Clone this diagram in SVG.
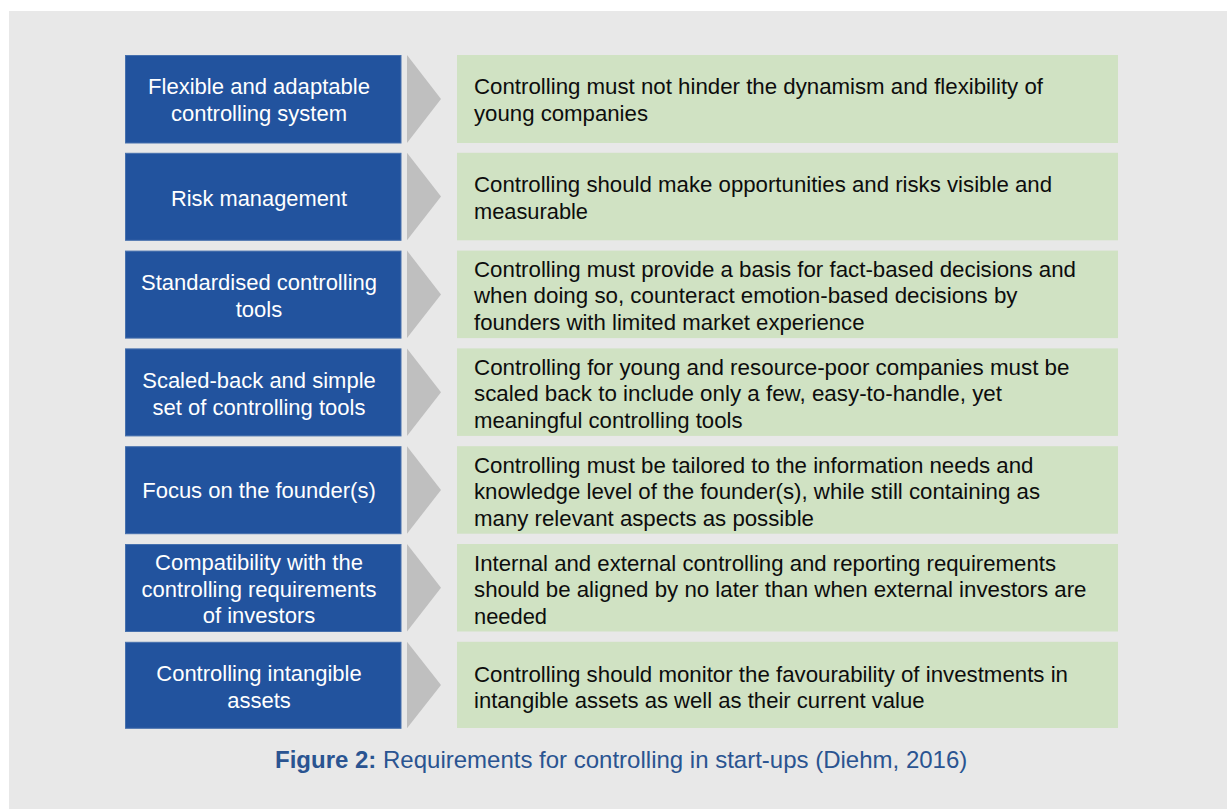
<svg xmlns="http://www.w3.org/2000/svg" width="1227" height="809" viewBox="0 0 1227 809">
<style>
.bg{fill:#e8e8e8}
.req{fill:#22539e;stroke:#4670ad;stroke-width:1}
.chev{fill:#bfbfbf}
.desc{fill:#d0e2c3}
.rt{font-family:"Liberation Sans",Arial,sans-serif;font-size:22px;fill:#ffffff;text-anchor:middle}
.dt{font-family:"Liberation Sans",Arial,sans-serif;font-size:22px;fill:#0d0d0d}
.cap{font-family:"Liberation Sans",Arial,sans-serif;font-size:24px;fill:#2a5491}
</style>
<rect width="1227" height="809" fill="#ffffff"/>
<rect class="bg" x="9" y="11" width="1218" height="798"/>

<g id="connectors">
<polygon class="chev" points="407,55 441,99 407,143"/>
<polygon class="chev" points="407,152.8 441,196.6 407,240.3"/>
<polygon class="chev" points="407,250.6 441,294.4 407,338.1"/>
<polygon class="chev" points="407,348.4 441,392.2 407,435.9"/>
<polygon class="chev" points="407,446.2 441,490 407,533.7"/>
<polygon class="chev" points="407,544 441,587.8 407,631.5"/>
<polygon class="chev" points="407,641.8 441,685 407,728.3"/>
</g>

<g id="req1"><rect class="req" x="125.5" y="55.5" width="275.5" height="87.5"/>
<text class="rt" x="259" y="94" textLength="222" lengthAdjust="spacingAndGlyphs">Flexible and adaptable</text>
<text class="rt" x="259" y="121" textLength="176" lengthAdjust="spacingAndGlyphs">controlling system</text></g>
<g id="desc1"><rect class="desc" x="457" y="55" width="661" height="88"/>
<text class="dt" x="474" y="93.5" textLength="569" lengthAdjust="spacingAndGlyphs">Controlling must not hinder the dynamism and flexibility of</text>
<text class="dt" x="474" y="120.5" textLength="174" lengthAdjust="spacingAndGlyphs">young companies</text></g>

<g id="req2"><rect class="req" x="125.5" y="153.3" width="275.5" height="87"/>
<text class="rt" x="259" y="205.5" textLength="176" lengthAdjust="spacingAndGlyphs">Risk management</text></g>
<g id="desc2"><rect class="desc" x="457" y="152.8" width="661" height="87.5"/>
<text class="dt" x="474" y="192" textLength="578" lengthAdjust="spacingAndGlyphs">Controlling should make opportunities and risks visible and</text>
<text class="dt" x="474" y="218.5" textLength="114" lengthAdjust="spacingAndGlyphs">measurable</text></g>

<g id="req3"><rect class="req" x="125.5" y="251.1" width="275.5" height="87"/>
<text class="rt" x="259" y="290">Standardised controlling</text>
<text class="rt" x="259" y="317">tools</text></g>
<g id="desc3"><rect class="desc" x="457" y="250.6" width="661" height="87.5"/>
<text class="dt" x="474" y="276.5" textLength="602" lengthAdjust="spacingAndGlyphs">Controlling must provide a basis for fact-based decisions and</text>
<text class="dt" x="474" y="303" textLength="543.5" lengthAdjust="spacingAndGlyphs">when doing so, counteract emotion-based decisions by</text>
<text class="dt" x="474" y="329.5" textLength="390.5" lengthAdjust="spacingAndGlyphs">founders with limited market experience</text></g>

<g id="req4"><rect class="req" x="125.5" y="348.9" width="275.5" height="87"/>
<text class="rt" x="259" y="388">Scaled-back and simple</text>
<text class="rt" x="259" y="415">set of controlling tools</text></g>
<g id="desc4"><rect class="desc" x="457" y="348.4" width="661" height="87.5"/>
<text class="dt" x="474" y="374.5" textLength="595.5" lengthAdjust="spacingAndGlyphs">Controlling for young and resource-poor companies must be</text>
<text class="dt" x="474" y="401" textLength="528" lengthAdjust="spacingAndGlyphs">scaled back to include only a few, easy-to-handle, yet</text>
<text class="dt" x="474" y="427.5" textLength="268.5" lengthAdjust="spacingAndGlyphs">meaningful controlling tools</text></g>

<g id="req5"><rect class="req" x="125.5" y="446.7" width="275.5" height="87"/>
<text class="rt" x="259" y="498">Focus on the founder(s)</text></g>
<g id="desc5"><rect class="desc" x="457" y="446.2" width="661" height="87.5"/>
<text class="dt" x="474" y="472.5" textLength="559.5" lengthAdjust="spacingAndGlyphs">Controlling must be tailored to the information needs and</text>
<text class="dt" x="474" y="499" textLength="566" lengthAdjust="spacingAndGlyphs">knowledge level of the founder(s), while still containing as</text>
<text class="dt" x="474" y="525.5" textLength="340" lengthAdjust="spacingAndGlyphs">many relevant aspects as possible</text></g>

<g id="req6"><rect class="req" x="125.5" y="544.5" width="275.5" height="87"/>
<text class="rt" x="259" y="570">Compatibility with the</text>
<text class="rt" x="259" y="596.5">controlling requirements</text>
<text class="rt" x="259" y="623">of investors</text></g>
<g id="desc6"><rect class="desc" x="457" y="544" width="661" height="87.5"/>
<text class="dt" x="474" y="570.5" textLength="582" lengthAdjust="spacingAndGlyphs">Internal and external controlling and reporting requirements</text>
<text class="dt" x="474" y="597" textLength="612.5" lengthAdjust="spacingAndGlyphs">should be aligned by no later than when external investors are</text>
<text class="dt" x="474" y="623.5" textLength="73" lengthAdjust="spacingAndGlyphs">needed</text></g>

<g id="req7"><rect class="req" x="125.5" y="642.3" width="275.5" height="86"/>
<text class="rt" x="259" y="681">Controlling intangible</text>
<text class="rt" x="259" y="707.5">assets</text></g>
<g id="desc7"><rect class="desc" x="457" y="641.8" width="661" height="86.2"/>
<text class="dt" x="474" y="681.5" textLength="594" lengthAdjust="spacingAndGlyphs">Controlling should monitor the favourability of investments in</text>
<text class="dt" x="474" y="708" textLength="450.5" lengthAdjust="spacingAndGlyphs">intangible assets as well as their current value</text></g>

<text class="cap" x="275" y="768"><tspan font-weight="bold">Figure 2:</tspan> Requirements for controlling in start-ups (Diehm, 2016)</text>
</svg>
